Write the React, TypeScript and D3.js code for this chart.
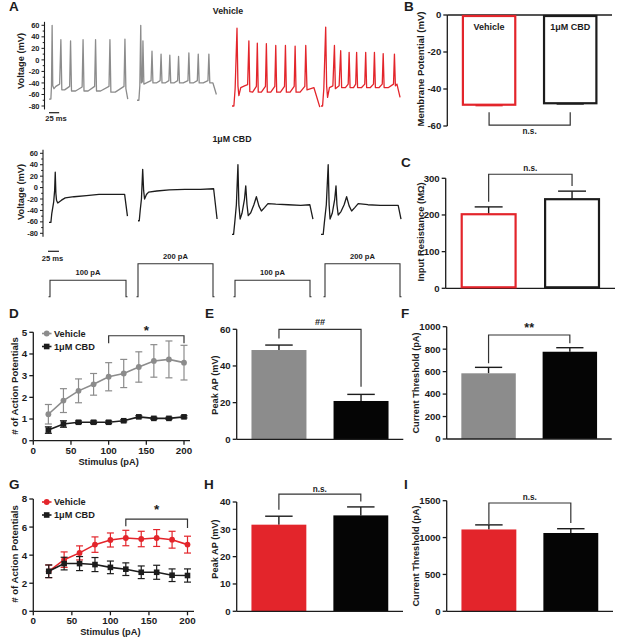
import React from 'react';
import * as d3 from 'd3';

const FONT = "'Liberation Sans', Arial, Helvetica, sans-serif";
const GRAY = '#8c8c8c';
const RED = '#e3252b';
const INK = '#1c1c1c';

type Pt = [number, number];

// ---------- Panel A: voltage traces [time (ms), voltage (mV)] ----------
const vehGray100: Pt[] = [[0,-68],[6,-68],[8,-45],[10,60],[12,-45],[16,-50],[22,-46],[34,-42],[38,35],[41,-52],[50,-52],[66,-46],[69,33],[72,-54],[85,-54],[106,-47],[109,35],[112,-54],[125,-54],[146,-46],[149,35],[152,-54],[165,-54],[192,-46],[195,35],[198,-56],[212,-56],[240,-46],[243,36],[246,-50],[252,-68]];
const vehGray200: Pt[] = [[0,-70],[6,-70],[9,-45],[12,60],[14,-40],[17,-38],[19,33],[22,-42],[30,-40],[45,-36],[48,15],[51,-40],[62,-40],[74,-36],[77,10],[80,-40],[90,-40],[102,-36],[105,8],[108,-40],[118,-40],[130,-36],[133,6],[136,-40],[148,-40],[163,-36],[166,12],[169,-40],[180,-40],[193,-36],[196,10],[199,-40],[212,-40],[227,-36],[230,10],[233,-40],[243,-40],[254,-60]];
const vehRed100: Pt[] = [[0,-80],[6,-80],[10,-50],[16,55],[19,-45],[22,-62],[28,-48],[40,-45],[50,-43],[54,33],[57,-55],[66,-56],[78,-46],[81,29],[84,-56],[94,-56],[107,-46],[110,28],[113,-56],[124,-56],[137,-46],[140,25],[143,-56],[155,-56],[168,-46],[171,25],[174,-56],[186,-56],[199,-46],[202,24],[205,-56],[218,-56],[233,-46],[236,25],[240,-52],[262,-48],[281,-82]];
const vehRed200: Pt[] = [[0,-80],[5,-80],[9,-50],[15,57],[18,-45],[21,-65],[27,-48],[38,-45],[43,25],[46,-50],[58,-45],[63,16],[66,-48],[78,-48],[87,-42],[90,13],[93,-48],[104,-48],[111,-42],[114,13],[117,-48],[130,-48],[140,-42],[143,13],[146,-48],[158,-48],[168,-42],[171,13],[174,-48],[186,-48],[196,-42],[199,11],[202,-48],[216,-48],[232,-42],[235,10],[238,-45],[243,-42],[253,-65]];
const cbd100a: Pt[] = [[0,-61],[6,-61],[9,-45],[15,-25],[18,-5],[20,27],[22,-10],[24,-22],[28,-27],[40,-22],[52,-18],[80,-16],[120,-14],[160,-12],[200,-12],[242,-12],[251,-50]];
const cbd200a: Pt[] = [[0,-58],[4,-58],[7,-40],[11,-20],[15,32],[18,-5],[21,-20],[27,-12],[34,-8],[60,-6],[100,-4],[150,-3],[200,-3],[242,-2],[253,-55]];
const cbd100b: Pt[] = [[0,-82],[5,-82],[9,-60],[14,-30],[19,40],[22,-30],[26,-55],[32,-45],[40,-20],[44,3],[48,-30],[52,-49],[60,-44],[70,-30],[78,-16],[86,-32],[94,-41],[104,-35],[115,-28],[140,-29],[180,-30],[220,-31],[249,-30],[259,-55]];
const cbd200b: Pt[] = [[0,-82],[7,-82],[11,-60],[17,-30],[23,40],[26,-30],[29,-55],[36,-45],[44,-20],[48,3],[51,-30],[55,-48],[64,-42],[74,-30],[82,-16],[90,-32],[98,-41],[108,-35],[119,-28],[150,-30],[190,-31],[230,-31],[247,-31],[256,-55]];
const voltageTicks = [60, 40, 20, 0, -20, -40, -60, -80];
const stimulusAmps = [100, 200, 100, 200];
const stimulusLabels = ['100 pA', '200 pA', '100 pA', '200 pA'];
const scaleBarMs = 25;

// ---------- Bar panels ----------
const groups = ['Vehicle', '1μM CBD'];
const restMean = [-48.5, -47.7];
const restSem = [0.5, 0.4];
const restTicks = [0, -20, -40, -60];
const rinMean = [202, 243];
const rinSem = [20, 22];
const rinTicks = [0, 100, 200, 300];
const peakE = [48.7, 20.9];
const peakESem = [2.7, 3.6];
const peakETicks = [0, 20, 40, 60];
const threshF = [585, 777];
const threshFSem = [53, 36];
const threshFTicks = [0, 200, 400, 600, 800, 1000];
const peakH = [31.7, 35.1];
const peakHSem = [3.1, 3.1];
const peakHTicks = [0, 10, 20, 30, 40];
const threshI = [1110, 1062];
const threshISem = [62, 58];
const threshITicks = [0, 500, 1000, 1500];

// ---------- Line panels ----------
const stimSteps = [20, 40, 60, 80, 100, 120, 140, 160, 180, 200];
const stimTicks = [0, 50, 100, 150, 200];
const dVehMean = [1.22, 1.85, 2.3, 2.6, 2.95, 3.1, 3.4, 3.68, 3.75, 3.6];
const dVehSem = [0.45, 0.55, 0.55, 0.5, 0.65, 0.65, 0.7, 0.75, 0.85, 0.8];
const dCbdMean = [0.49, 0.77, 0.85, 0.85, 0.85, 0.92, 1.1, 1.03, 1.03, 1.1];
const dCbdSem = [0.15, 0.15, 0.06, 0.06, 0.06, 0.05, 0.05, 0.05, 0.05, 0.05];
const dTicks = [0, 1, 2, 3, 4, 5];
const gVehMean = [2.85, 3.68, 4.16, 4.75, 5.08, 5.22, 5.15, 5.22, 5.1, 4.75];
const gVehSem = [0.45, 0.55, 0.5, 0.55, 0.5, 0.55, 0.55, 0.6, 0.6, 0.6];
const gCbdMean = [2.85, 3.4, 3.4, 3.33, 3.13, 3.0, 2.78, 2.78, 2.57, 2.55];
const gCbdSem = [0.45, 0.45, 0.5, 0.5, 0.45, 0.45, 0.45, 0.5, 0.45, 0.47];
const gTicks = [0, 2, 4, 6, 8];

const T = (p: any) => <text fontFamily={FONT} fontWeight="bold" fill={INK} {...p} />;

function YAxis({ x, scale, ticks, fs = 9.6, len = 4, lineFrom, lineTo }: any) {
  const [a, b] = [lineFrom ?? scale.domain()[0], lineTo ?? scale.domain()[1]];
  return (
    <g>
      <line x1={x} x2={x} y1={scale(a)} y2={scale(b)} stroke={INK} strokeWidth={1.3} />
      {ticks.map((t: number) => (
        <g key={t}>
          <line x1={x - len} x2={x} y1={scale(t)} y2={scale(t)} stroke={INK} strokeWidth={1.3} />
          <T x={x - len - 2} y={scale(t)} dy="0.35em" fontSize={fs} textAnchor="end">{t}</T>
        </g>
      ))}
    </g>
  );
}

function YTitle({ x, y, text, fs = 9.4 }: any) {
  return <T x={x} y={y} fontSize={fs} textAnchor="middle" dominantBaseline="central" transform={`rotate(-90 ${x} ${y})`}>{text}</T>;
}

function Letter({ x, y, c }: any) {
  return <T x={x} y={y} fontSize={13.5}>{c}</T>;
}

function Bracket({ xa, xb, ya, yb, yTop, text, fs = 9, ty }: any) {
  return (
    <g>
      <path d={`M${xa},${ya}V${yTop}H${xb}V${yb}`} fill="none" stroke="#333" strokeWidth={1.2} />
      <T x={(xa + xb) / 2} y={ty} fontSize={fs} textAnchor="middle">{text}</T>
    </g>
  );
}

function VoltAxis({ x, yScale }: any) {
  const minor = d3.range(-80, 70, 10);
  return (
    <g>
      <line x1={x} x2={x} y1={yScale(66)} y2={yScale(-86)} stroke={INK} strokeWidth={1.1} />
      {minor.map((m) => (
        <line key={m} x1={x - (m % 20 === 0 ? 3 : 1.8)} x2={x} y1={yScale(m)} y2={yScale(m)} stroke={INK} strokeWidth={1} />
      ))}
      {voltageTicks.map((t) => (
        <T key={t} x={x - 5} y={yScale(t)} dy="0.35em" fontSize={7.5} textAnchor="end">{t}</T>
      ))}
    </g>
  );
}

function Trace({ data, x0, yScale, color }: any) {
  const t = d3.scaleLinear().domain([0, 256]).range([x0, x0 + 80]);
  const line = d3.line<Pt>().x((d) => t(d[0])).y((d) => yScale(d[1]));
  return <path d={line(data) || ''} fill="none" stroke={color} strokeWidth={1.3} strokeLinejoin="round" />;
}

function PanelA() {
  const yTop = d3.scaleLinear().domain([60, -80]).range([25.3, 106]);
  const yBot = d3.scaleLinear().domain([60, -80]).range([153.3, 233.3]);
  const tms = d3.scaleLinear().domain([0, 256]).range([0, 80]);
  const stimY = d3.scaleLinear().domain([0, 200]).range([296.7, 263.7]);
  const stimX0 = [50, 138, 235, 325];
  const stimW = [76, 75, 75, 75];
  const topX = [49, 137, 232, 321];
  const botX = [49, 138, 232, 321];
  return (
    <g>
      <Letter x={9} y={11} c="A" />
      <T x={228} y={14} fontSize={8.8} textAnchor="middle">Vehicle</T>
      <VoltAxis x={44.5} yScale={yTop} />
      <YTitle x={20.5} y={61} text="Voltage (mV)" fs={9.3} />
      <Trace data={vehGray100} x0={topX[0]} yScale={yTop} color={GRAY} />
      <Trace data={vehGray200} x0={topX[1]} yScale={yTop} color={GRAY} />
      <Trace data={vehRed100} x0={topX[2]} yScale={yTop} color={RED} />
      <Trace data={vehRed200} x0={topX[3]} yScale={yTop} color={RED} />
      <line x1={49} x2={49 + tms(scaleBarMs) * 1.3} y1={112.7} y2={112.7} stroke={INK} strokeWidth={1.2} />
      <T x={56} y={121} fontSize={7.6} textAnchor="middle">25 ms</T>

      <T x={232} y={141.5} fontSize={8.8} textAnchor="middle">1μM CBD</T>
      <VoltAxis x={43} yScale={yBot} />
      <YTitle x={20.5} y={192} text="Voltage (mV)" fs={9.3} />
      <Trace data={cbd100a} x0={botX[0]} yScale={yBot} color={INK} />
      <Trace data={cbd200a} x0={botX[1]} yScale={yBot} color={INK} />
      <Trace data={cbd100b} x0={botX[2]} yScale={yBot} color={INK} />
      <Trace data={cbd200b} x0={botX[3]} yScale={yBot} color={INK} />
      <line x1={48} x2={48 + tms(scaleBarMs) * 1.4} y1={251.3} y2={251.3} stroke={INK} strokeWidth={1.2} />
      <T x={52.5} y={260.5} fontSize={7.6} textAnchor="middle">25 ms</T>

      {stimulusAmps.map((a, i) => {
        const x0 = stimX0[i], x1 = x0 + stimW[i];
        const base = stimY(0), top = stimY(a);
        return (
          <g key={i}>
            <path d={`M${x0 - 1.5},${base}H${x0}V${top}H${x1}V${base}H${x1 + 1.5}`} fill="none" stroke="#333" strokeWidth={1.1} />
            <T x={(x0 + x1) / 2} y={top - 5} fontSize={7.6} textAnchor="middle">{stimulusLabels[i]}</T>
          </g>
        );
      })}
    </g>
  );
}

function band(x0: number, x1: number) {
  return d3.scaleBand<string>().domain(groups).range([x0, x1]).paddingInner(0.33).paddingOuter(0.18);
}

function ErrUp({ xc, w, y0, y1, color }: any) {
  return (
    <g>
      <line x1={xc} x2={xc} y1={y0} y2={y1} stroke={color} strokeWidth={1.4} />
      <line x1={xc - w / 2} x2={xc + w / 2} y1={y1} y2={y1} stroke={color} strokeWidth={1.4} />
    </g>
  );
}

function PanelB() {
  const y = d3.scaleLinear().domain([0, -60]).range([15, 126]);
  const x = band(447.3, 612);
  const colors = [RED, INK];
  const bw = x.bandwidth();
  return (
    <g>
      <Letter x={404} y={11} c="B" />
      <YAxis x={447.3} scale={y} ticks={restTicks} />
      <line x1={447.3} x2={612} y1={y(0)} y2={y(0)} stroke={INK} strokeWidth={1.3} />
      <YTitle x={420} y={69} text="Membrane Potential (mV)" fs={9.6} />
      {groups.map((g, i) => {
        const x0 = x(g)!, xc = x0 + bw / 2;
        return (
          <g key={g}>
            <ErrUp xc={xc} w={bw * 0.5} y0={y(restMean[i])} y1={y(restMean[i] - restSem[i])} color={colors[i]} />
            <rect x={x0 + 1} y={y(0) + 1} width={bw - 2} height={y(restMean[i]) - y(0) - 1} fill="#fff" stroke={colors[i]} strokeWidth={2.2} />
            <T x={xc} y={30} fontSize={9} textAnchor="middle">{g}</T>
          </g>
        );
      })}
      <Bracket xa={x(groups[0])! + bw / 2} xb={x(groups[1])! + bw / 2} ya={y(-52.5)} yb={y(-52.5)} yTop={y(-59.5)} text="n.s." fs={8.2} ty={134} />
    </g>
  );
}

function PanelC() {
  const y = d3.scaleLinear().domain([0, 300]).range([288.3, 178.3]);
  const x = band(445.7, 615);
  const colors = [RED, INK];
  const bw = x.bandwidth();
  return (
    <g>
      <Letter x={401} y={167} c="C" />
      <YAxis x={445.7} scale={y} ticks={rinTicks} />
      <line x1={445.7} x2={615} y1={y(0)} y2={y(0)} stroke={INK} strokeWidth={1.3} />
      <YTitle x={420} y={232} text="Input Resistance (MΩ)" fs={9.4} />
      {groups.map((g, i) => {
        const x0 = x(g)!, xc = x0 + bw / 2;
        return (
          <g key={g}>
            <ErrUp xc={xc} w={bw * 0.5} y0={y(rinMean[i])} y1={y(rinMean[i] + rinSem[i])} color={INK} />
            <rect x={x0 + 1} y={y(rinMean[i])} width={bw - 2} height={y(0) - y(rinMean[i]) - 1} fill="#fff" stroke={colors[i]} strokeWidth={2.2} />
          </g>
        );
      })}
      <Bracket xa={x(groups[0])! + bw / 2} xb={x(groups[1])! + bw / 2} ya={y(236)} yb={y(279)} yTop={y(311)} text="n.s." fs={8.2} ty={171} />
    </g>
  );
}

function FilledBars({ axisX, axisEnd, y, ticks, means, sems, colors, title, titleX, titleY, br }: any) {
  const x = band(axisX, axisEnd);
  const bw = x.bandwidth();
  return (
    <g>
      {groups.map((g, i) => {
        const x0 = x(g)!, xc = x0 + bw / 2;
        return (
          <g key={g}>
            <ErrUp xc={xc} w={bw * 0.5} y0={y(means[i])} y1={y(means[i] + sems[i])} color={INK} />
            <rect x={x0} y={y(means[i])} width={bw} height={y(0) - y(means[i])} fill={colors[i]} />
          </g>
        );
      })}
      <YAxis x={axisX} scale={y} ticks={ticks} />
      <line x1={axisX} x2={axisEnd} y1={y(0)} y2={y(0)} stroke={INK} strokeWidth={1.3} />
      <YTitle x={titleX} y={titleY} text={title} fs={9.2} />
      <Bracket xa={x(groups[0])! + bw / 2} xb={x(groups[1])! + bw / 2} ya={y(br.a)} yb={y(br.b)} yTop={y(br.top)} text={br.text} fs={br.fs} ty={br.ty} />
    </g>
  );
}

function LinePanel({ x, y, xTicks, yTicks, axisEnd, veh, vehSem, cbd, cbdSem, vehColor, titleY, xlabelY, legendY, br }: any) {
  const line = d3.line<number>().x((_, i) => x(stimSteps[i])).y((d) => y(d));
  const series = [
    { m: veh, s: vehSem, c: vehColor, shape: 'circle' },
    { m: cbd, s: cbdSem, c: INK, shape: 'square' },
  ];
  const y0 = y(0);
  return (
    <g>
      <line x1={x(0)} x2={x(0)} y1={y0} y2={y(y.domain()[1])} stroke={INK} strokeWidth={1.3} />
      {yTicks.map((t: number) => (
        <g key={t}>
          <line x1={x(0) - 4} x2={x(0)} y1={y(t)} y2={y(t)} stroke={INK} strokeWidth={1.3} />
          <T x={x(0) - 6} y={y(t)} dy="0.35em" fontSize={9.8} textAnchor="end">{t}</T>
        </g>
      ))}
      <line x1={x(0)} x2={axisEnd} y1={y0} y2={y0} stroke={INK} strokeWidth={1.3} />
      {xTicks.map((t: number) => (
        <g key={t}>
          <line x1={x(t)} x2={x(t)} y1={y0} y2={y0 + 4} stroke={INK} strokeWidth={1.3} />
          <T x={x(t)} y={y0 + 13} fontSize={9.8} textAnchor="middle">{t}</T>
        </g>
      ))}
      <T x={(x(0) + x(200)) / 2} y={xlabelY} fontSize={9.3} textAnchor="middle">Stimulus (pA)</T>
      <YTitle x={14} y={titleY} text="# of Action Potentials" fs={9.6} />
      {series.map((s, k) => (
        <g key={k}>
          {s.m.map((v: number, i: number) => {
            const xc = x(stimSteps[i]);
            return (
              <g key={i}>
                <line x1={xc} x2={xc} y1={y(v - s.s[i])} y2={y(v + s.s[i])} stroke={s.c} strokeWidth={1.2} />
                <line x1={xc - 3.5} x2={xc + 3.5} y1={y(v - s.s[i])} y2={y(v - s.s[i])} stroke={s.c} strokeWidth={1.2} />
                <line x1={xc - 3.5} x2={xc + 3.5} y1={y(v + s.s[i])} y2={y(v + s.s[i])} stroke={s.c} strokeWidth={1.2} />
              </g>
            );
          })}
          <path d={line(s.m) || ''} fill="none" stroke={s.c} strokeWidth={1.6} />
          {s.m.map((v: number, i: number) =>
            s.shape === 'circle' ? (
              <circle key={i} cx={x(stimSteps[i])} cy={y(v)} r={2.9} fill={s.c} />
            ) : (
              <rect key={i} x={x(stimSteps[i]) - 2.8} y={y(v) - 2.8} width={5.6} height={5.6} fill={s.c} />
            )
          )}
        </g>
      ))}
      <line x1={42} x2={51.5} y1={legendY} y2={legendY} stroke={vehColor} strokeWidth={1.6} />
      <circle cx={46.7} cy={legendY} r={2.9} fill={vehColor} />
      <T x={54} y={legendY + 3.3} fontSize={9.2}>Vehicle</T>
      <line x1={42} x2={51.5} y1={legendY + 13} y2={legendY + 13} stroke={INK} strokeWidth={1.6} />
      <rect x={43.9} y={legendY + 10.2} width={5.6} height={5.6} fill={INK} />
      <T x={54} y={legendY + 16.3} fontSize={9.2}>1μM CBD</T>
      <path d={`M${x(br.x1)},${y(br.a)}V${y(br.top)}H${x(br.x2)}V${y(br.b)}`} fill="none" stroke="#333" strokeWidth={1.2} />
      <T x={(x(br.x1) + x(br.x2)) / 2} y={br.ty} fontSize={13.5} textAnchor="middle">*</T>
    </g>
  );
}

export default function App() {
  const yE = d3.scaleLinear().domain([0, 60]).range([439.3, 329.3]);
  const yF = d3.scaleLinear().domain([0, 1000]).range([439, 326.7]);
  const yH = d3.scaleLinear().domain([0, 40]).range([611.3, 502]);
  const yI = d3.scaleLinear().domain([0, 1500]).range([611.3, 500.7]);
  const xD = d3.scaleLinear().domain([0, 200]).range([33.3, 184]);
  const yD = d3.scaleLinear().domain([0, 5]).range([440.7, 332.3]);
  const xG = d3.scaleLinear().domain([0, 200]).range([33.3, 187.5]);
  const yG = d3.scaleLinear().domain([0, 8]).range([611.3, 499]);
  return (
    <svg width={619} height={639} viewBox="0 0 619 639" style={{ position: 'absolute', left: 0, top: 0, background: '#fff' }}>
      <rect width={619} height={639} fill="#fff" />
      <PanelA />
      <PanelB />
      <PanelC />

      <Letter x={9} y={318} c="D" />
      <LinePanel x={xD} y={yD} xTicks={stimTicks} yTicks={dTicks} axisEnd={190} veh={dVehMean} vehSem={dVehSem} cbd={dCbdMean} cbdSem={dCbdSem} vehColor={GRAY} titleY={386} xlabelY={465} legendY={333.5} br={{ x1: 100, x2: 200, a: 4.49, b: 4.49, top: 4.84, ty: 335 }} />

      <Letter x={205} y={318} c="E" />
      <FilledBars axisX={236.7} axisEnd={403.3} y={yE} ticks={peakETicks} means={peakE} sems={peakESem} colors={[GRAY, '#050505']} title="Peak AP (mV)" titleX={215} titleY={385} br={{ a: 55, b: 28.7, top: 60, text: '##', fs: 9.2, ty: 325 }} />

      <Letter x={401} y={318} c="F" />
      <FilledBars axisX={446.7} axisEnd={611.7} y={yF} ticks={threshFTicks} means={threshF} sems={threshFSem} colors={[GRAY, '#050505']} title="Current Threshold (pA)" titleX={416} titleY={383} br={{ a: 674, b: 852, top: 926, text: '**', fs: 12.5, ty: 332 }} />

      <Letter x={9} y={489} c="G" />
      <LinePanel x={xG} y={yG} xTicks={stimTicks} yTicks={gTicks} axisEnd={194} veh={gVehMean} vehSem={gVehSem} cbd={gCbdMean} cbdSem={gCbdSem} vehColor={RED} titleY={554} xlabelY={635} legendY={502} br={{ x1: 120, x2: 200, a: 6.05, b: 5.93, top: 6.57, ty: 514 }} />

      <Letter x={204} y={489} c="H" />
      <FilledBars axisX={236.7} axisEnd={403} y={yH} ticks={peakHTicks} means={peakH} sems={peakHSem} colors={[RED, '#050505']} title="Peak AP (mV)" titleX={215} titleY={549} br={{ a: 37.2, b: 40.2, top: 42.9, text: 'n.s.', fs: 8.2, ty: 492 }} />

      <Letter x={404} y={489} c="I" />
      <FilledBars axisX={446.7} axisEnd={613} y={yI} ticks={threshITicks} means={threshI} sems={threshISem} colors={[RED, '#050505']} title="Current Threshold (pA)" titleX={416} titleY={556} br={{ a: 1184, b: 1198, top: 1469, text: 'n.s.', fs: 8.2, ty: 500 }} />
    </svg>
  );
}
